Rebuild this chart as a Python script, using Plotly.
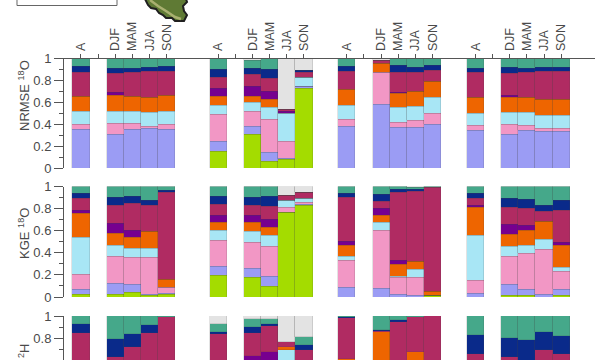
import numpy as np
import plotly.graph_objects as go

# Bar positions and labels
bar_x = [0, 2, 3, 4, 5, 8, 10, 11, 12, 13, 15.5, 17.5, 18.5, 19.5, 20.5, 23, 25, 26, 27, 28]
label_x = [0, 2, 3, 4, 5, 8, 10, 11, 12, 13, 15.5, 17.5, 18.5, 19.5, 20.5, 23, 25, 26, 27, 28]
label_text = ["A", "DJF", "MAM", "JJA", "SON"] * 4
blank_tick_x = [1, 9, 16.5, 24]

series_names = ["lime", "periwinkle", "pink", "light blue", "orange", "purple", "crimson", "navy", "teal", "grey"]
series_colors = ["#A4DC00", "#9B9CF4", "#F297C5", "#A8E6F5", "#EE6500", "#76008F", "#B02B62", "#0A2A8A", "#45A88A", "#E3E3E3"]

# Upper boundary of each stacked band (5 bars per site)
nrmse_lime = [0,0,0,0,0, .155,.305,.055,.08,.73, 0,0,0,0,0, 0,0,0,0,0]
nrmse_peri = [.35,.31,.35,.36,.355, .245,.38,.145,.085,.74, .375,.58,.37,.37,.40, .34,.31,.345,.335,.33]
nrmse_pink = [.40,.406,.403,.38,.395, .485,.52,.445,.24,.745, .44,.875,.42,.43,.50, .385,.395,.39,.365,.36]
nrmse_lblue = [.518,.518,.518,.503,.518, .575,.595,.55,.495,.83, .575,.875,.55,.56,.64, .50,.51,.505,.48,.48]
nrmse_orange = [.655,.66,.655,.645,.66, .65,.65,.63,.495,.83, .72,.955,.68,.70,.79, .64,.64,.645,.63,.625]
nrmse_purple = [.655,.685,.655,.645,.66, .725,.74,.70,.52,.83, .72,.955,.69,.70,.79, .64,.665,.645,.63,.625]
nrmse_crimson = [.875,.867,.873,.879,.879, .83,.85,.82,.535,.872, .88,.98,.87,.87,.895, .875,.865,.87,.88,.88]
nrmse_navy = [.927,.912,.912,.918,.927, .90,.91,.90,.535,.89, .93,.98,.935,.92,.94, .91,.915,.91,.915,.92]
nrmse_teal = [1,1,1,1,1, 1,.98,1,.535,.89, 1,.98,1,1,1, 1,1,1,1,1]

kge_lime = [.02,.025,.045,.01,.02, .195,.175,.095,.768,.83, 0,0,0,0,.015, 0,.01,.01,0,.01]
kge_peri = [.065,.12,.11,.025,.035, .28,.26,.185,.768,.84, .085,.08,.025,.01,.015, .035,.11,.07,.025,.07]
kge_pink = [.205,.365,.36,.36,.09, .515,.49,.46,.81,.855, .33,.60,.175,.18,.015, .15,.365,.39,.43,.235]
kge_lblue = [.54,.465,.44,.44,.09, .60,.595,.56,.875,.895, .37,.67,.19,.245,.015, .555,.455,.465,.52,.27]
kge_orange = [.76,.575,.54,.59,.16, .67,.67,.63,.875,.895, .47,.74,.29,.32,.05, .81,.57,.60,.68,.47]
kge_purple = [.785,.665,.60,.59,.16, .74,.74,.70,.875,.895, .505,.80,.33,.32,.05, .825,.66,.65,.68,.495]
kge_crimson = [.89,.825,.85,.83,.95, .84,.83,.82,.915,.945, .90,.865,.945,.955,.995, .89,.81,.805,.775,.785]
kge_navy = [.94,.90,.91,.87,.965, .91,.905,.91,.915,.945, .94,.925,.97,.97,.995, .935,.895,.885,.83,.875]
kge_teal = [1,1,1,1,1, 1,1,1,.915,.945, 1,1,1,.99,1, 1,1,1,1,1]

h2_lime = [0]*20
h2_peri = [.30]*20
h2_pink = [.40]*20
h2_lblue = [.50,.50,.50,.50,.50, .50,.50,.50,.69,.50, .50,.50,.50,.50,.50, .50,.50,.50,.50,.50]
h2_orange = [.55,.55,.55,.55,.55, .55,.55,.55,.72,.55, .61,.855,.55,.67,.55, .55,.55,.55,.55,.55]
h2_purple = [.55,.55,.55,.55,.55, .55,.64,.67,.72,.55, .61,.855,.55,.67,.55, .55,.55,.55,.55,.55]
h2_crimson = [.845,.63,.72,.85,.995, .835,.85,.905,.765,.69, .985,.865,.945,.995,1, .655,.63,.57,.695,.655]
h2_navy = [.925,.79,.84,.92,.995, .855,.90,.925,.765,.74, .99,.87,.96,.995,1, .825,.80,.78,.855,.82]
h2_teal = [1,1,1,1,1, .93,.975,.97,.765,.805, 1,1,1,1,1, 1,1,1,1,1]

top_total = [1] * 20

panels = [
    ("y", [nrmse_lime, nrmse_peri, nrmse_pink, nrmse_lblue, nrmse_orange, nrmse_purple, nrmse_crimson, nrmse_navy, nrmse_teal, top_total]),
    ("y2", [kge_lime, kge_peri, kge_pink, kge_lblue, kge_orange, kge_purple, kge_crimson, kge_navy, kge_teal, top_total]),
    ("y3", [h2_lime, h2_peri, h2_pink, h2_lblue, h2_orange, h2_purple, h2_crimson, h2_navy, h2_teal, top_total]),
]

W, H = 600, 360
fig = go.Figure()
for axis, tops in panels:
    arr = np.array(tops, dtype=float)
    heights = np.diff(np.vstack([np.zeros(arr.shape[1]), arr]), axis=0)
    for name, color, vals in zip(series_names, series_colors, heights):
        fig.add_trace(go.Bar(
            x=bar_x, y=vals.round(4), width=1, name=name, xaxis="x", yaxis=axis,
            marker=dict(color=color, line=dict(color="rgba(70,70,70,0.25)", width=0.6)),
            showlegend=False,
        ))

AX = "#555555"
TXT = "#4a4a4a"

def yax(dom, rng):
    return dict(
        domain=dom, range=rng, anchor="x", tickmode="array", automargin=False,
        tickvals=[0, .2, .4, .6, .8, 1], ticktext=["0", "0.2", "0.4", "0.6", "0.8", "1"],
        ticks="outside", ticklen=9, tickwidth=1, tickcolor=AX,
        showline=True, linecolor=AX, linewidth=1, showgrid=False, zeroline=False,
        tickfont=dict(family="Liberation Sans", size=13, color=TXT),
        minor=dict(tickvals=[.1, .3, .5, .7, .9], ticks="outside", ticklen=4, tickcolor=AX, tickwidth=1, showgrid=False),
    )

def pd(px):
    return 1 - px / H

def poly(points, close=True):
    body = " L ".join(f"{x / W:.5f} {pd(y):.5f}" for x, y in points)
    return "M " + body + (" Z" if close else "")

def side_label(text, y_px):
    return dict(text=text, x=24 / W, y=pd(y_px), xref="paper", yref="paper", textangle=-90,
                xanchor="center", yanchor="middle", showarrow=False,
                font=dict(family="Liberation Sans", size=13, color=TXT))

map_outline = [(145, -1), (148, 5), (151, 8), (156, 9), (159, 13), (163, 15), (166, 18), (172, 18),
               (175, 21), (184, 21), (187, 15), (184, 11), (183, 6), (187, 2), (186, -1)]
map_streak = [(150, 0), (158, 6), (166, 11), (175, 17), (181, 19)]

fig.update_layout(
    width=W, height=H, margin=dict(l=0, r=0, t=0, b=0, pad=0), autosize=False,
    paper_bgcolor="white", plot_bgcolor="white", barmode="stack", bargap=0,
    xaxis=dict(
        domain=[64 / W, 595 / W], range=[-0.99, 29.97], anchor="y", side="top", automargin=False,
        tickmode="array", tickvals=label_x, ticktext=label_text, tickangle=-90,
        ticks="outside", ticklen=4, tickcolor=AX, showline=True, linecolor=AX, linewidth=1,
        showgrid=False, zeroline=False,
        tickfont=dict(family="Liberation Sans", size=12.5, color=TXT),
        minor=dict(tickvals=blank_tick_x, ticks="outside", ticklen=4, tickcolor=AX, tickwidth=1, showgrid=False),
    ),
    yaxis=yax([pd(168), pd(58.5)], [0, 1]),
    yaxis2=yax([pd(297), pd(186.5)], [0, 1]),
    yaxis3=yax([0, pd(316)], [0.6, 1]),
    shapes=[
        dict(type="path", xref="paper", yref="paper", layer="above", path=poly(map_outline),
             fillcolor="#5F7A34", line=dict(color="#1f1f1f", width=2)),
        dict(type="path", xref="paper", yref="paper", layer="above", path=poly(map_streak, close=False),
             line=dict(color="#A9B070", width=2.5)),
        dict(type="path", xref="paper", yref="paper", layer="above",
             path=poly([(17, -1), (17, 5.5), (117, 5.5), (117, -1)], close=False),
             line=dict(color="#666666", width=1)),
    ],
    annotations=[
        side_label("NRMSE <sup>18</sup>O", 96),
        side_label("KGE <sup>18</sup>O", 234),
        side_label("<sup>2</sup>H", 351),
    ],
)

fig.write_html("out.html", config={"displayModeBar": False},
               post_script="document.body.style.margin='0';")
